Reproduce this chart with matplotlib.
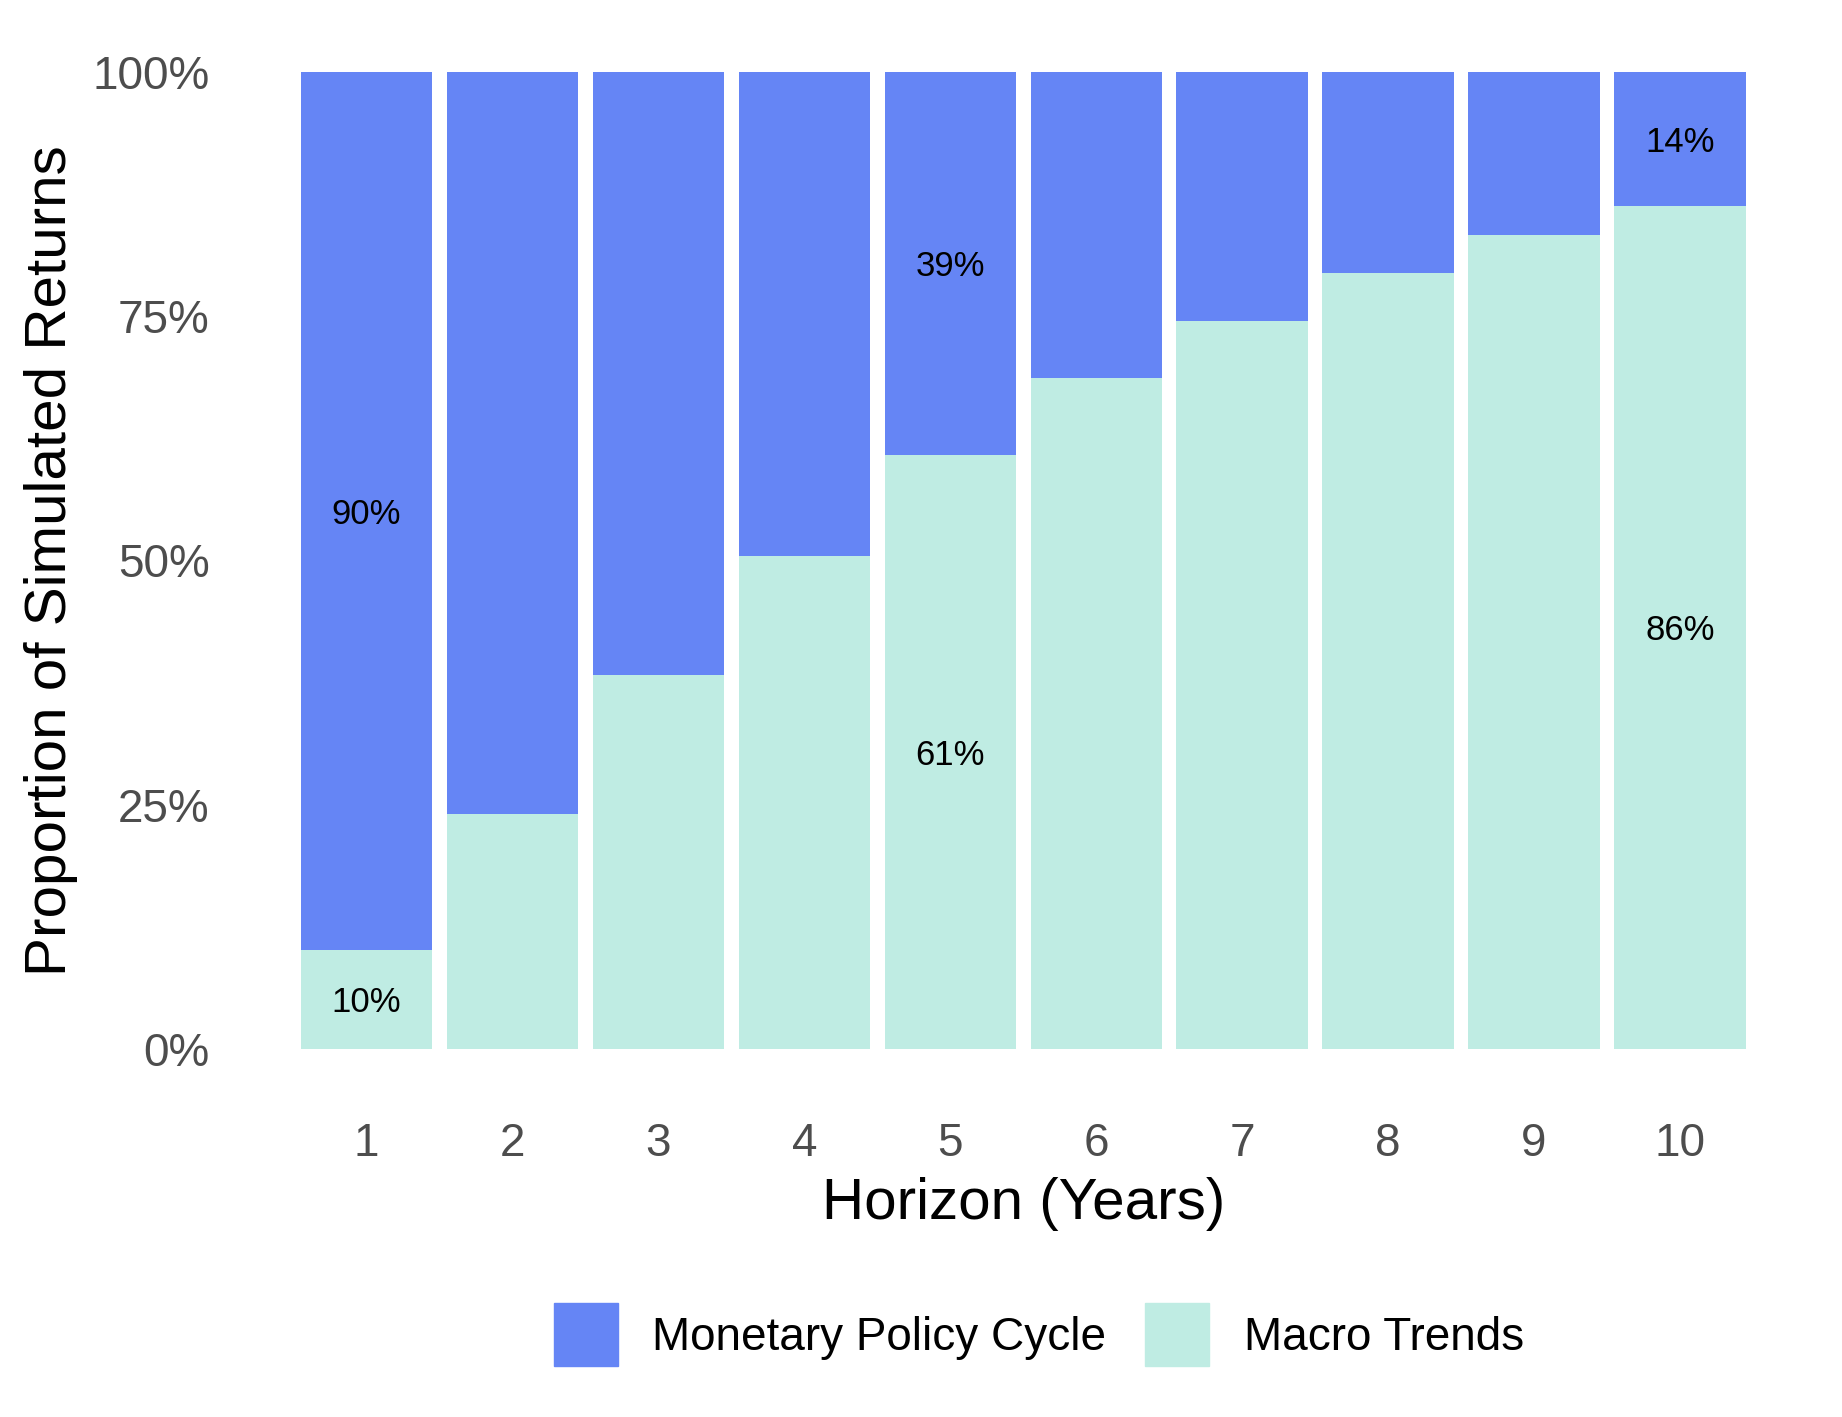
import numpy as np
import matplotlib
matplotlib.use("Agg")
import matplotlib.pyplot as plt
from matplotlib.patches import Patch

plt.rcParams['font.family'] = ['Liberation Sans', 'DejaVu Sans']

# data
horizons = [1, 2, 3, 4, 5, 6, 7, 8, 9, 10]
macro = [10.2, 24.1, 38.3, 50.5, 60.8, 68.7, 74.5, 79.4, 83.3, 86.3]
monetary = [100 - m for m in macro]
labelled = [1, 5, 10]   # horizons that carry % labels

c_mon = '#6585F5'
c_mac = '#BFECE3'

fig = plt.figure(figsize=(18.42, 14.17), dpi=100)
ax = fig.add_axes([0.1515, 0.225, 0.808, 0.759])

x = np.arange(len(horizons))
ax.bar(x, macro, width=0.9, color=c_mac, label='Macro Trends')
ax.bar(x, monetary, width=0.9, bottom=macro, color=c_mon, label='Monetary Policy Cycle')

# segment labels
for i, h in enumerate(horizons):
    if h in labelled:
        ax.text(x[i], macro[i] / 2, '%d%%' % round(macro[i]), ha='center',
                va='center_baseline', fontsize=25, color='black')
        ax.text(x[i], macro[i] + monetary[i] / 2, '%d%%' % round(monetary[i]),
                ha='center', va='center_baseline', fontsize=25, color='black')

ax.set_xlim(-0.6, len(horizons) - 0.4)
ax.set_ylim(-5, 105)
ax.set_xticks(x)
ax.set_xticklabels([str(h) for h in horizons])
ax.set_yticks([0, 25, 50, 75, 100])
ax.set_yticklabels(['0%', '25%', '50%', '75%', '100%'])
ax.tick_params(axis='both', length=0, labelsize=33, labelcolor='#4D4D4D')
ax.tick_params(axis='y', pad=50)
ax.tick_params(axis='x', pad=17)
for s in ax.spines.values():
    s.set_visible(False)

ax.set_xlabel('Horizon (Years)', fontsize=42, labelpad=8)
ax.set_ylabel('Proportion of Simulated Returns', fontsize=42, labelpad=10)

handles = [Patch(color=c_mon), Patch(color=c_mac)]
fig.legend(handles, ['Monetary Policy Cycle', 'Macro Trends'], loc='center',
           bbox_to_anchor=(0.564, 0.058), ncol=2, frameon=False, fontsize=33,
           handlelength=1.4, handleheight=1.75, handletextpad=0.75, columnspacing=0.85)

fig.savefig('out.png', dpi=100)
